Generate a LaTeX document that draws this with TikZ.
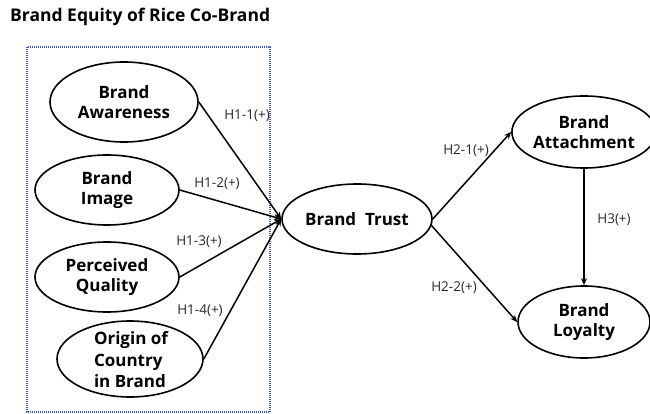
\documentclass[tikz,border=0pt]{standalone}
\usepackage{fontspec}
\setmainfont{Open Sans}
\usetikzlibrary{shapes.geometric,arrows.meta}
\definecolor{boxblue}{RGB}{60,95,160}
\definecolor{lblgray}{RGB}{40,40,40}
\tikzset{
  construct/.style={draw, ellipse, line width=1.6pt, inner sep=0pt, align=center,
    font=\fontsize{17}{20}\selectfont\bfseries},
  link/.style={line width=1.5pt, -{Stealth[length=7pt,width=6pt]}},
  hyp/.style={font=\fontsize{13.5}{15}\selectfont, text=lblgray, inner sep=1pt}
}
\begin{document}
\begin{tikzpicture}[x=1pt,y=-1pt]
\useasboundingbox (0,0) rectangle (650,414);
\node[anchor=west, font=\fontsize{17.5}{19}\selectfont\bfseries, inner sep=0pt] (title) at (10,17) {Brand Equity of Rice Co-Brand};
\draw[boxblue, line width=1.1pt, dash pattern=on 1pt off 1pt] (27,47) rectangle (270,412);
\node[construct, minimum width=148pt, minimum height=80pt] (aw) at (124,102) {Brand\\Awareness};
\node[construct, minimum width=144pt, minimum height=70pt] (im) at (107,190) {Brand\\Image};
\node[construct, minimum width=144pt, minimum height=70pt] (pq) at (107,277) {Perceived\\Quality};
\node[construct, minimum width=146pt, minimum height=76pt] (oc) at (130,359) {};
\node[align=left, inner sep=0pt, font=\fontsize{17}{21.5}\selectfont\bfseries] (octext) at (131,360) {Origin of\\Country\\in Brand};
\node[construct, minimum width=150pt, minimum height=70pt] (bt) at (357,219) {Brand\ \ Trust};
\node[construct, minimum width=128pt, minimum height=72pt] (ba) at (584,132) {Brand\\Attachment};
\node[construct, minimum width=132pt, minimum height=72pt] (bl) at (584,322) {Brand\\Loyalty};
\draw[link] (aw.east) -- (bt.west);
\draw[link] (im.east) -- (bt.west);
\draw[link] (pq.east) -- (bt.west);
\draw[link] (oc.east) -- (bt.west);
\draw[link] (bt.east) -- (ba.west);
\draw[link] (bt.-5) -- (bl.west);
\draw[link] (ba.south) -- (bl.north);
\node[hyp] (h11) at (247,116) {H1-1(+)};
\node[hyp] (h12) at (217,184) {H1-2(+)};
\node[hyp] (h13) at (199,242) {H1-3(+)};
\node[hyp] (h14) at (200,311) {H1-4(+)};
\node[hyp] (h21) at (466,151) {H2-1(+)};
\node[hyp] (h22) at (454,288) {H2-2(+)};
\node[hyp] (h3) at (614,220) {H3(+)};
\end{tikzpicture}
\end{document}
